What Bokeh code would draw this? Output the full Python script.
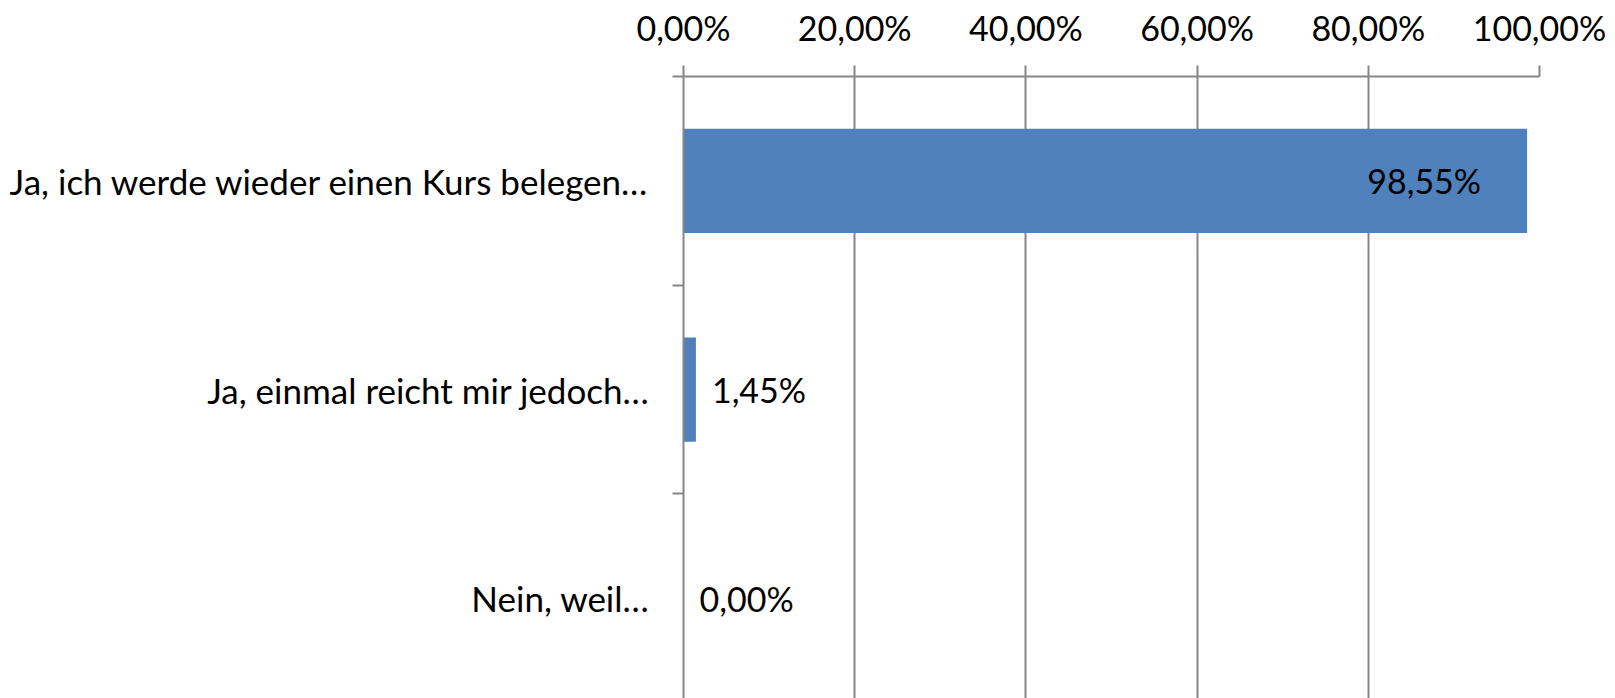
from bokeh.plotting import figure
from bokeh.models import ColumnDataSource, Range1d, FixedTicker
from bokeh.core.properties import value
from bokeh.embed import file_html
from bokeh.resources import INLINE

categories = ["Ja, ich werde wieder einen Kurs belegen…",
              "Ja, einmal reicht mir jedoch…",
              "Nein, weil…"]
values = [98.55, 1.45, 0.00]
value_labels = ["98,55%", "1,45%", "0,00%"]
x_ticks = [0, 20, 40, 60, 80, 100]
x_tick_labels = ["0,00%", "20,00%", "40,00%", "60,00%", "80,00%", "100,00%"]

FONT = "Lato"
FS = "34px"
FS_CAT = "35px"
GRID = "#868686"
BAR = "#4F81BD"

ypos = [i + 0.5 for i in range(len(categories))]

p = figure(width=1615, height=698, output_backend="svg", toolbar_location=None,
           x_range=Range1d(0, 100), y_range=Range1d(2.98, 0),
           x_axis_location="above",
           min_border_left=683, min_border_right=76, min_border_top=76, min_border_bottom=0)
p.outline_line_color = None

src = ColumnDataSource(dict(y=ypos, v=values))
p.hbar(y="y", left=0, right="v", height=0.5, source=src, fill_color=BAR, line_color=None)

inside = [v > 50 for v in values]
in_src = ColumnDataSource(dict(y=[y for y, f in zip(ypos, inside) if f],
                               v=[v for v, f in zip(values, inside) if f],
                               lab=[l for l, f in zip(value_labels, inside) if f]))
out_src = ColumnDataSource(dict(y=[y for y, f in zip(ypos, inside) if not f],
                                v=[v for v, f in zip(values, inside) if not f],
                                lab=[l for l, f in zip(value_labels, inside) if not f]))
p.text(x="v", y="y", text="lab", source=in_src, text_align="right", text_baseline="middle",
       x_offset=-46, text_font=value(FONT), text_font_size=FS, text_color="black")
p.text(x="v", y="y", text="lab", source=out_src, text_align="left", text_baseline="middle",
       x_offset=16, text_font=value(FONT), text_font_size=FS, text_color="black")

# x axis (top)
xa = p.xaxis[0]
xa.ticker = FixedTicker(ticks=x_ticks)
xa.major_label_overrides = {t: l for t, l in zip(x_ticks, x_tick_labels)}
xa.major_label_text_font = FONT
xa.major_label_text_font_size = FS
xa.major_label_text_color = "black"
xa.major_tick_out = 11
xa.major_tick_in = 0
xa.minor_tick_line_color = None
xa.major_tick_line_color = GRID
xa.major_tick_line_width = 2
xa.axis_line_color = GRID
xa.axis_line_width = 2
xa.major_label_standoff = 18

# y axis (left)
ya = p.yaxis[0]
ya.ticker = FixedTicker(ticks=ypos, minor_ticks=list(range(len(categories) + 1)))
ya.major_label_overrides = {y: c for y, c in zip(ypos, categories)}
ya.major_label_text_font = FONT
ya.major_label_text_font_size = FS_CAT
ya.major_label_text_color = "black"
ya.major_tick_line_color = None
ya.major_tick_out = 0
ya.major_tick_in = 0
ya.minor_tick_out = 11
ya.minor_tick_in = 0
ya.minor_tick_line_color = GRID
ya.minor_tick_line_width = 2
ya.axis_line_color = GRID
ya.axis_line_width = 2
ya.major_label_standoff = 23

p.xgrid.ticker = FixedTicker(ticks=x_ticks)
p.xgrid.grid_line_color = GRID
p.xgrid.grid_line_width = 2
p.ygrid.grid_line_color = None

open("out.html", "w").write(file_html(p, INLINE))
